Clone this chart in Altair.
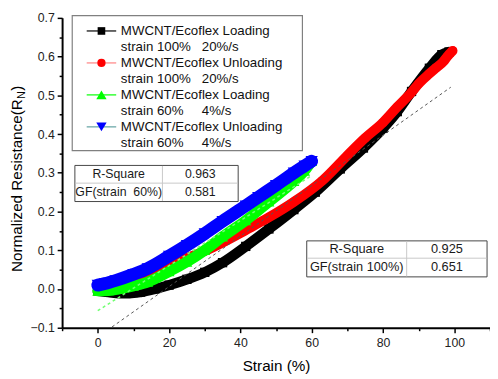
import altair as alt
import pandas as pd

# ---------------- data ----------------
load100_x = [0, 3, 6, 9, 12, 16, 20, 25, 30, 35, 41.5, 48, 55, 61, 68, 74.5, 80, 84, 88, 93, 96.5, 98.5]
load100_y = [-0.005, -0.008, -0.011, -0.011, -0.008, 0.0, 0.01, 0.025, 0.043, 0.068, 0.11, 0.155,
             0.205, 0.25, 0.31, 0.364, 0.415, 0.458, 0.51, 0.57, 0.605, 0.612]

unload100_x = [99.5, 98, 97, 95, 93, 90, 88, 84, 80, 75, 70, 63, 55, 48, 41.5, 35, 30, 25, 20, 14, 9, 5, 2, 0]
unload100_y = [0.615, 0.60, 0.588, 0.572, 0.556, 0.53, 0.508, 0.47, 0.43, 0.39, 0.345, 0.28, 0.225,
               0.185, 0.152, 0.12, 0.098, 0.08, 0.058, 0.035, 0.02, 0.01, 0.006, 0.005]

load60_x = [0, 3, 6, 10, 14, 20, 25, 30, 35, 41.5, 48, 55, 58, 60]
load60_y = [-0.005, -0.004, 0.0, 0.008, 0.018, 0.045, 0.07, 0.1, 0.135, 0.177, 0.225, 0.278, 0.305, 0.33]

unload60_x = [60, 58, 55, 50, 45, 41.5, 35, 30, 25, 20, 14, 10, 5, 2, 0]
unload60_y = [0.33, 0.318, 0.3, 0.268, 0.237, 0.215, 0.175, 0.143, 0.113, 0.085, 0.053, 0.038, 0.022, 0.014, 0.01]

fit100_x = [4, 99]
fit100_y = [-0.098, 0.521]
fit60_x = [0, 60]
fit60_y = [-0.056, 0.293]

legend_line1 = ["MWCNT/Ecoflex Loading", "MWCNT/Ecoflex Unloading",
                "MWCNT/Ecoflex Loading", "MWCNT/Ecoflex Unloading"]
legend_strain = ["strain 100%", "strain 100%", "strain 60%", "strain 60%"]
legend_rate = ["20%/s", "20%/s", "4%/s", "4%/s"]

table60_names = ["R-Square", "GF(strain\u00a0 60%)"]
table60_vals = ["0.963", "0.581"]
table100_names = ["R-Square", "GF(strain 100%)"]
table100_vals = ["0.925", "0.651"]

FONT = "Liberation Sans"
W, H = 435, 315

series = [
    # (x, y, marker color, legend line color, shape, marker size, band width, legend marker size)
    (load100_x, load100_y, "#000000", "#000000", "square", 90, 10.5, 60),
    (unload100_x, unload100_y, "#ff0000", "#ff8080", "circle", 85, 10, 70),
    (load60_x, load60_y, "#00ff00", "#00ff00", "triangle-up", 125, 11, 110),
    (unload60_x, unload60_y, "#0000ff", "#5fa0a0", "triangle-down", 155, 13, 110),
]

xscale = alt.Scale(domain=[-10, 110], nice=False, zero=False)
yscale = alt.Scale(domain=[-0.1, 0.7], nice=False, zero=False)

xaxis = alt.Axis(
    values=list(range(-10, 111, 10)),
    labelExpr="datum.value % 20 == 0 ? datum.label : ''",
    tickSize={"condition": {"test": "datum.value % 20 == 0", "value": 5}, "value": 3},
    title="Strain (%)", titleFontSize=15.5, titleFontWeight="normal", titlePadding=10,
    titleColor="#000000", titleFont=FONT,
    labelFontSize=12.5, labelColor="#222222", labelPadding=4, labelOverlap=False, labelFont=FONT,
    domainColor="#000000", domainWidth=2, tickColor="#000000", tickWidth=1.5,
    grid=False, labelFlush=False,
)
yvals = [round(-0.1 + 0.05 * i, 2) for i in range(17)]
yaxis = alt.Axis(
    values=yvals, format=".1f",
    labelExpr="abs(round(datum.value * 20)) % 2 == 0 ? datum.label : ''",
    tickSize={"condition": {"test": "abs(round(datum.value * 20)) % 2 == 0", "value": 5}, "value": 3},
    title="",
    labelFontSize=12.5, labelColor="#222222", labelPadding=3, labelOverlap=False, labelFont=FONT,
    domainColor="#000000", domainWidth=2, tickColor="#000000", tickWidth=1.5,
    grid=False, labelFlush=False,
)


def dx():
    return alt.X("x:Q", scale=xscale, axis=xaxis)


def dy():
    return alt.Y("y:Q", scale=yscale, axis=yaxis)


layers = []
for xs, ys, mcol, lcol, shape, msize, bw, lsize in series:
    df = pd.DataFrame({"x": xs, "y": ys, "o": list(range(len(xs)))})
    band = alt.Chart(df).mark_line(color=mcol, strokeWidth=bw, interpolate="monotone",
                                   strokeCap="round").encode(x=dx(), y=dy(), order="o:Q")
    pts = alt.Chart(df).mark_point(shape=shape, filled=True, color=mcol, size=msize, opacity=1).encode(
        x=dx(), y=dy())
    layers += [band, pts]

# fit lines
fit100 = alt.Chart(pd.DataFrame({"x": fit100_x, "y": fit100_y})).mark_line(
    color="#555555", strokeWidth=1, strokeDash=[3, 3]).encode(x=dx(), y=dy())
fit60 = alt.Chart(pd.DataFrame({"x": fit60_x, "y": fit60_y})).mark_line(
    color="#70ff70", strokeWidth=1.5, strokeDash=[3, 3]).encode(x=dx(), y=dy())
layers += [fit100, fit60]


def px(field):
    return alt.X(f"{field}:Q", scale=None)


def py(field):
    return alt.Y(f"{field}:Q", scale=None)


# ---------------- legend (pixel positions in the plot area) ----------------
LX0, LX1, LY0, LY1 = 10.3, 244.3, -2.3, 135
leg_box = alt.Chart(pd.DataFrame({"a": [LX0], "b": [LX1], "c": [LY0], "d": [LY1]})).mark_rect(
    fill="white", stroke="#808080", strokeWidth=1.2).encode(x=px("a"), x2="b", y=py("c"), y2="d")
layers.append(leg_box)
for i, (s, t1, t2, t3) in enumerate(zip(series, legend_line1, legend_strain, legend_rate)):
    _, _, mcol, lcol, shape, _, _, lsize = s
    yy = 13.3 + i * 32.5
    row = pd.DataFrame({"x1": [25], "x2": [55], "xm": [40], "xt": [59.7], "xr": [142],
                        "y1": [yy], "y2": [yy + 16], "t1": [t1], "t2": [t2], "t3": [t3]})
    base = alt.Chart(row)
    layers.append(base.mark_rule(color=lcol, strokeWidth=1.2).encode(x=px("x1"), x2="x2", y=py("y1")))
    layers.append(base.mark_point(shape=shape, filled=True, color=mcol, size=lsize, opacity=1).encode(
        x=px("xm"), y=py("y1")))
    txt = dict(font=FONT, fontSize=13.5, color="#111111", align="left", baseline="middle")
    layers.append(base.mark_text(**txt).encode(x=px("xt"), y=py("y1"), text="t1:N"))
    layers.append(base.mark_text(**txt).encode(x=px("xt"), y=py("y2"), text="t2:N"))
    layers.append(base.mark_text(**txt).encode(x=px("xr"), y=py("y2"), text="t3:N"))


# ---------------- fit tables ----------------
def table(x0, x1, xs, y0, y1, ys, names, vals, fs):
    out = []
    box = pd.DataFrame({"a": [x0], "b": [x1], "c": [y0], "d": [y1]})
    out.append(alt.Chart(box).mark_rect(fill="white", stroke="#444444", strokeWidth=1).encode(
        x=px("a"), x2="b", y=py("c"), y2="d"))
    seps = pd.DataFrame({"a": [x0 + 0.5, xs], "b": [x1 - 0.5, xs], "c": [ys, y0 + 0.5], "d": [ys, y1 - 0.5]})
    out.append(alt.Chart(seps).mark_rule(color="#c8c8c8", strokeWidth=1).encode(
        x=px("a"), x2="b", y=py("c"), y2="d"))
    rc = [(y0 + ys) / 2, (ys + y1) / 2]
    tdf = pd.DataFrame({"n": names, "v": vals, "y": rc,
                        "xa": [(x0 + xs) / 2] * 2, "xb": [(xs + x1) / 2] * 2})
    t = dict(font=FONT, fontSize=fs, color="#1a1a1a", align="center", baseline="middle")
    out.append(alt.Chart(tdf).mark_text(**t).encode(x=px("xa"), y=py("y"), text="n:N"))
    out.append(alt.Chart(tdf).mark_text(**t).encode(x=px("xb"), y=py("y"), text="v:N"))
    return out


layers += table(13, 179, 102, 150, 186.7, 168, table60_names, table60_vals, 12.5)
layers += table(248.7, 432, 350.3, 226.7, 263.3, 244.3, table100_names, table100_vals, 13)

# ---------------- y-axis title with subscript ----------------
ttl = pd.DataFrame({"x": [-46.0], "xs": [-41.0], "y1": [258.3], "y2": [82.4], "y3": [74.0],
                    "a": ["Normalized Resistance(R"], "b": ["N"], "c": [")"]})
tb = alt.Chart(ttl)
layers.append(tb.mark_text(font=FONT, fontSize=15.5, angle=270, align="left", baseline="middle",
                           color="#000000").encode(x=px("x"), y=py("y1"), text="a:N"))
layers.append(tb.mark_text(font=FONT, fontSize=11, angle=270, align="left", baseline="middle",
                           color="#000000").encode(x=px("xs"), y=py("y2"), text="b:N"))
layers.append(tb.mark_text(font=FONT, fontSize=15.5, angle=270, align="left", baseline="middle",
                           color="#000000").encode(x=px("x"), y=py("y3"), text="c:N"))

chart = alt.layer(*layers).properties(
    width=W, height=H,
    autosize=alt.AutoSizeParams(type="none"),
    padding={"left": 55, "top": 7, "right": 0, "bottom": 45},
).configure(
    font=FONT, background="white",
    view=alt.ViewConfig(stroke="transparent", strokeWidth=0),
    style={"cell": {"stroke": "transparent", "strokeWidth": 0}},
)

chart.save("out.html", embed_options={"renderer": "svg", "actions": False})
